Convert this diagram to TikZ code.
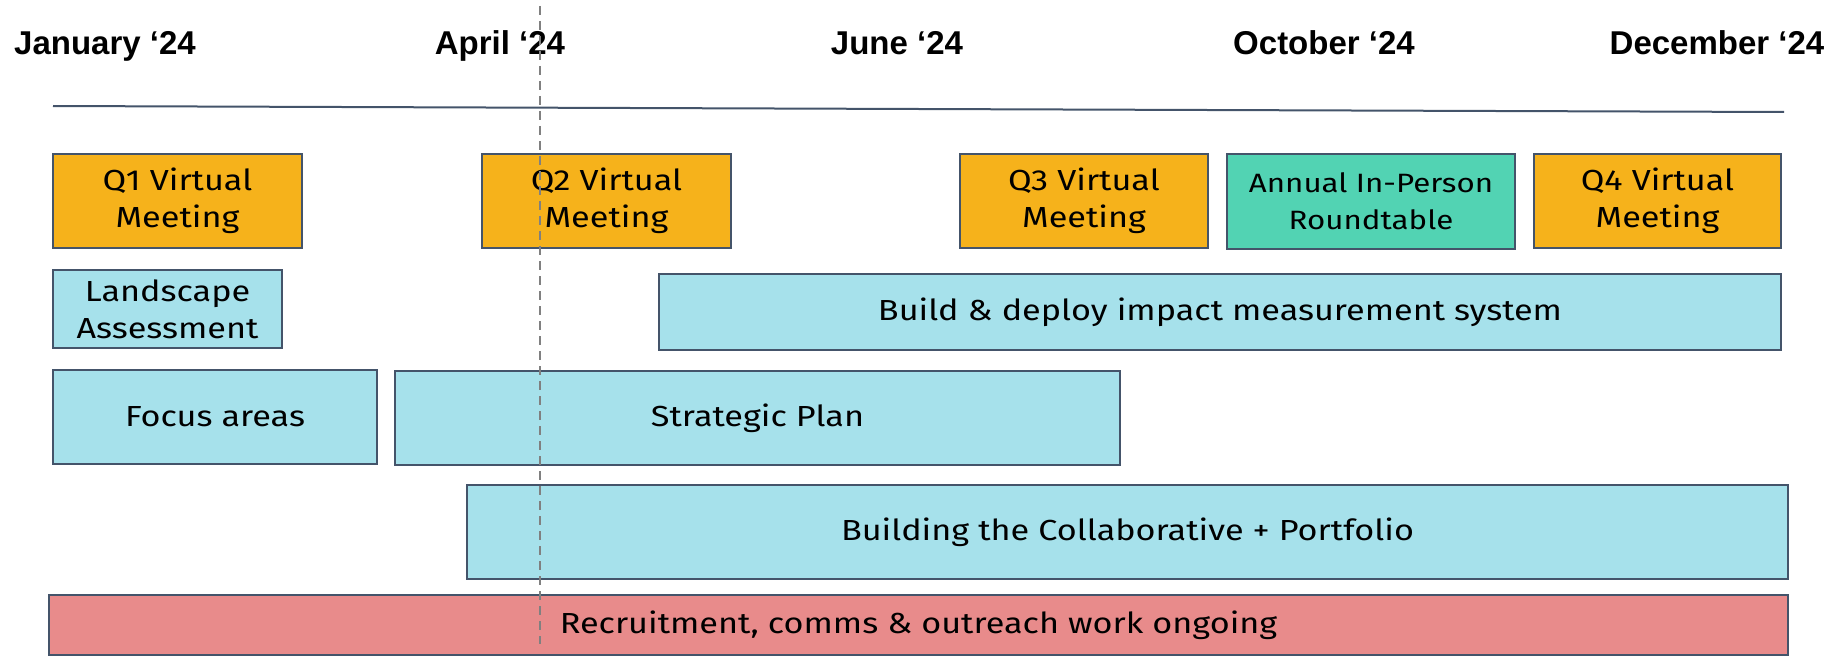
\documentclass[tikz,border=0pt]{standalone}
\usepackage{fontspec}
\setmainfont{Fira Sans}[FakeStretch=1.18]
\newfontfamily\monthfont{Liberation Sans}
\usepackage{tikz}
\usetikzlibrary{positioning}

\definecolor{slate}{HTML}{44546A}
\definecolor{meetcol}{HTML}{F6B21B}
\definecolor{roundcol}{HTML}{52D3B3}
\definecolor{taskcol}{HTML}{A6E1EB}
\definecolor{ongoingcol}{HTML}{E88B8B}

\tikzset{
  month/.style={font=\monthfont\fontsize{33}{36}\selectfont\bfseries, inner sep=0pt, anchor=base},
  bar/.style={draw=slate, line width=2pt, outer sep=0pt, inner sep=0pt,
    align=center, font=\fontsize{29}{37}\selectfont},
  meeting/.style={bar, fill=meetcol},
  roundtable/.style={bar, fill=roundcol},
  task/.style={bar, fill=taskcol},
  ongoing/.style={bar, fill=ongoingcol},
}

\begin{document}
\begin{tikzpicture}[x=1pt, y=-1pt]
\useasboundingbox (0,0) rectangle (1843,658);
% month labels
\node[month] (jan) at (105,55) {January ‘24};
\node[month] (apr) at (500,55) {April ‘24};
\node[month] (jun) at (897,55) {June ‘24};
\node[month] (oct) at (1324,55) {October ‘24};
\node[month] (dec) at (1717,55) {December ‘24};
% time axis
\coordinate (axisL) at (53,106);
\coordinate (axisR) at (1784,112);
\draw[slate, line width=2pt] (axisL)--(axisR);
% meetings
\node[meeting, minimum width=249, minimum height=94] (q1) at (177.5,201) {Q1 Virtual\\Meeting};
\node[meeting, minimum width=249, minimum height=94] (q2) at (606.5,201) {Q2 Virtual\\Meeting};
\node[meeting, minimum width=248, minimum height=94] (q3) at (1084,201) {Q3 Virtual\\Meeting};
\node[roundtable, minimum width=288, minimum height=95, font=\fontsize{26.5}{37}\selectfont] (annual) at (1371,201.5) {Annual In-Person\\Roundtable};
\node[meeting, minimum width=247, minimum height=94] (q4) at (1657.5,201) {Q4 Virtual\\Meeting};
% work streams
\node[task, minimum width=229, minimum height=78] (land) at (167.5,309) {Landscape\\Assessment};
\node[task, minimum width=1122, minimum height=76] (impact) at (1220,312) {Build \& deploy impact measurement system};
\node[task, minimum width=324, minimum height=94] (focus) at (215,417) {Focus areas};
\node[task, minimum width=725, minimum height=94] (plan) at (757.5,418) {Strategic Plan};
\node[task, minimum width=1321, minimum height=94] (collab) at (1127.5,532) {Building the Collaborative + Portfolio};
\node[ongoing, minimum width=1739, minimum height=60] (recruit) at (918.5,625) {Recruitment, comms \& outreach work ongoing};
% today marker
\coordinate (nowT) at (540,6);
\coordinate (nowB) at (540,644);
\draw[gray, line width=2pt, dash pattern=on 9pt off 6pt] (nowT)--(nowB);
\end{tikzpicture}
\end{document}
